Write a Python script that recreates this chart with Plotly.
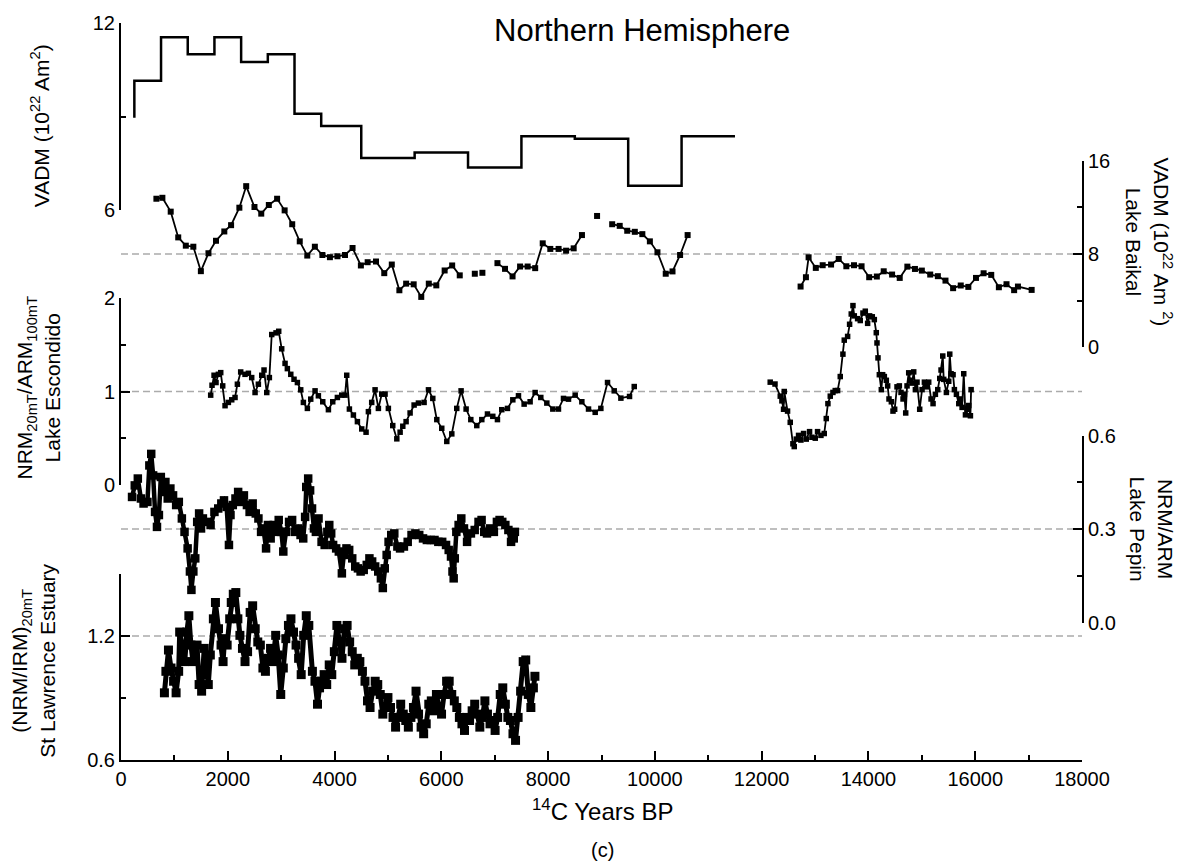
import plotly.graph_objects as go

# ---------------- data ----------------
# Global VADM compilation (step curve): bin edges (14C yr BP) and bin values (10^22 Am^2)
vadm_edges = [250, 750, 1250, 1750, 2250, 2750, 3250, 3750, 4500, 5500,
              6500, 7500, 8500, 9500, 10500, 11500]
vadm_vals = [10.16, 11.55, 11.01, 11.55, 10.76, 11.01, 9.10, 8.71, 7.68,
             7.86, 7.38, 8.38, 8.30, 6.79, 8.38]
vadm_start = 8.97

# Lake Baikal VADM (None marks breaks in the record)
baikal_yr = [663, 775, 931, 1072, 1214, 1355, 1496, 1638, 1779, 1935, 2062, 2217,
             2345, 2500, 2627, 2769, 2924, 3065, 3207, 3348, 3489, 3631, 3772,
             3913, 4055, 4196, 4337, 4493, 4620, 4776, 4931, 5072, 5214, 5341,
             5482, 5624, 5765, 5906, 6062, 6203, 6345, None, 6627, None, 6769,
             None, 7051, 7193, 7334, 7475, 7617, 7758, 7899, 8041, 8196, 8337,
             8479, 8634, None, 8917, None, 9200, 9341, 9482, 9624, 9765, 9906,
             10048, 10203, 10330, 10472, 10613, None,
             12729, 12829, 12879, 13014, 13143, 13300, 13443, 13586, 13729,
             13871, 14014, 14157, 14286, 14443, 14586, 14729, 14871, 15000,
             15157, 15300, 15443, 15586, 15729, 15871, 16014, 16157, 16300,
             16443, 16586, 16729, 16800, 17057]
baikal_val = [12.74, 12.82, 11.63, 9.42, 8.71, 8.62, 6.52, 8.06, 9.13, 9.93, 10.47, 11.97,
              13.82, 12.03, 11.46, 12.20, 12.74, 11.74, 10.55, 9.08, 7.86, 8.62, 7.91,
              7.72, 7.80, 7.91, 8.51, 7.01, 7.29, 7.35, 6.35, 7.09, 4.88, 5.45,
              5.39, 4.31, 5.45, 5.30, 6.58, 7.01, 6.16, None, 6.30, None, 6.38,
              None, 7.21, 6.72, 6.07, 6.92, 6.92, 6.78, 8.91, 8.43, 8.43, 8.28,
              8.48, 9.62, None, 11.26, None, 10.55, 10.41, 9.99, 9.90, 9.70, 9.08,
              8.14, 6.30, 6.50, 7.91, 9.62, None,
              5.20, 6.00, 7.71, 6.80, 7.03, 7.09, 7.57, 6.94, 7.03,
              6.94, 6.00, 6.06, 6.51, 6.23, 5.94, 6.91, 6.71, 6.57,
              6.23, 6.09, 5.71, 5.06, 5.29, 5.17, 5.94, 6.34, 6.20,
              5.14, 5.40, 4.89, 5.20, 4.91]

# Lake Escondido NRM20mT/ARM100mT
escondido_yr = [1680, 1705, 1743, 1780, 1824, 1868, 1905, 1949, 2011, 2074, 2136, 2180,
                2242, 2323, 2386, 2448, 2511, 2573, 2636, 2679, 2730, 2779, 2823, 2904,
                2954, 3010, 3073, 3116, 3180, 3241, 3304, 3366, 3416, 3491, 3554, 3635,
                3697, 3779, 3885, 3966, 4053, 4135, 4197, 4228, 4278, 4353, 4428, 4509,
                4590, 4634, 4696, 4759, 4821, 4884, 4946, 5008, 5090, 5166,
                5228, 5278, 5340, 5415, 5490, 5571, 5677, 5759, 5840, 5915, 6008, 6102,
                6196, 6289, 6370, 6464, 6552, 6664, 6758, 6864, 6964, 7051, 7132, 7239,
                7339, 7445, 7551, 7663, 7757, 7863, 7976, 8088, 8194, 8288, 8382, 8507,
                8632, 8757, 8882, 8988, 9113, 9238, 9363, 9525, 9613, None,
                12160, 12250, 12348, 12379, 12410, 12423, 12485, 12535, 12585, 12610,
                12648, 12691, 12735, 12785, 12835, 12897, 12941, 13004, 13047, 13110,
                13172, 13210, 13241, 13285, 13335, 13378, 13422, 13472, 13522, 13547,
                13610, 13647, 13678, 13710, 13735, 13797, 13847, 13897, 13941, 13985,
                14022, 14072, 14110, 14147, 14160, 14179, 14204, 14241, 14266, 14298,
                14335, 14360, 14385, 14429, 14460, 14491, 14535, 14579, 14610, 14648,
                14673, 14698, 14723, 14754, 14785, 14816, 14848, 14879, 14910, 14960,
                15004, 15048, 15085, 15129, 15173, 15210, 15254, 15298, 15335, 15360,
                15392, 15410, 15460, 15504, 15523, 15548, 15585, 15610, 15648, 15692,
                15723, 15754, 15785, 15817, 15848, 15879, 15910, 15923]
escondido_val = [0.961, 1.067, 1.174, 1.096, 1.184, 1.202, 1.060, 0.848, 0.883, 0.911, 0.936, 1.078,
                 1.209, 1.184, 1.195, 1.149, 0.989, 1.078, 1.174, 1.230, 0.989, 1.149, 1.610, 1.628,
                 1.645, 1.457, 1.301, 1.245, 1.184, 1.131, 1.096, 1.018, 0.883, 0.819, 0.918, 1.007,
                 0.954, 0.890, 0.805, 0.890, 0.936, 0.961, 0.961, 1.174, 0.812, 0.748, 0.677, 0.599,
                 0.564, 0.784, 0.883, 1.018, 0.819, 0.972, 0.972, 0.819, 0.635, 0.493,
                 0.564, 0.628, 0.677, 0.770, 0.855, 0.876, 0.883, 1.018, 0.926, 0.699, 0.606, 0.465,
                 0.546, 0.819, 1.007, 0.812, 0.699, 0.635, 0.699, 0.759, 0.734, 0.699, 0.805, 0.819,
                 0.911, 0.954, 0.865, 0.890, 0.989, 0.936, 0.876, 0.812, 0.812, 0.926, 0.918, 0.961,
                 0.890, 0.812, 0.777, 0.819, 1.096, 1.007, 0.929, 0.947, 1.053, None,
                 1.10, 1.08, 0.95, 0.90, 0.81, 1.00, 0.79, 0.67, 0.44, 0.41,
                 0.49, 0.53, 0.48, 0.55, 0.49, 0.57, 0.51, 0.50, 0.57, 0.53,
                 0.55, 0.71, 0.87, 0.95, 0.99, 1.01, 1.01, 1.16, 1.40, 1.55,
                 1.59, 1.72, 1.83, 1.92, 1.81, 1.78, 1.76, 1.84, 1.86, 1.73,
                 1.81, 1.80, 1.77, 1.63, 1.52, 1.36, 1.18, 1.02, 1.18, 1.16,
                 1.12, 1.06, 0.92, 0.89, 0.79, 0.81, 1.05, 1.06, 0.99, 0.92,
                 0.97, 0.77, 1.06, 1.20, 1.12, 1.09, 1.21, 1.02, 1.10, 0.81,
                 1.02, 1.10, 1.05, 1.10, 0.92, 0.87, 0.97, 1.02, 1.14, 1.23,
                 1.38, 1.13, 0.99, 1.11, 1.40, 1.19, 1.18, 1.02, 0.97, 0.87,
                 0.92, 0.83, 1.19, 0.75, 0.81, 0.85, 0.74, 1.02]

# Lake Pepin NRM/ARM
pepin_yr = [207, 258, 315, 373, 423, 495, 531, 566, 602, 638, 674, 710, 746, 782, 832,
            875, 925, 975, 1033, 1083, 1140, 1190, 1248, 1291, 1319, 1355, 1391, 1427,
            1463, 1499, 1534, 1606, 1678, 1750, 1821, 1879, 1929, 1979, 2022, 2051, 2094,
            2144, 2194, 2251, 2302, 2359, 2409, 2466, 2524, 2574, 2624, 2667, 2717, 2753,
            2803, 2861, 2911, 2954, 3004, 3040, 3090, 3148, 3205, 3255, 3312, 3363, 3413,
            3449, 3470, 3506, 3542, 3578, 3614, 3650, 3700, 3757, 3815, 3865, 3901, 3937,
            3973, 4030, 4080, 4137, 4173, 4223, 4274, 4331, 4388, 4438, 4488, 4546, 4603,
            4653, 4704, 4761, 4818, 4868, 4904, 4940, 4976, 5012, 5062, 5119, 5177, 5227,
            5299, 5370, 5442, 5514, 5586, 5657, 5729, 5801, 5872, 5944, 6016, 6088, 6138,
            6181, 6209, 6231, 6252, 6281, 6324, 6374, 6424, 6482, 6554, 6625, 6697, 6754,
            6804, 6855, 6912, 6984, 7041, 7091, 7141, 7199, 7256, 7306, 7356, 7378]
pepin_val = [0.403, 0.440, 0.462, 0.398, 0.382, 0.387, 0.504, 0.541, 0.472, 0.355, 0.307, 0.345, 0.467, 0.419, 0.451,
             0.398, 0.430, 0.408, 0.377, 0.387, 0.334, 0.291, 0.238, 0.164, 0.105, 0.164, 0.206, 0.323,
             0.350, 0.302, 0.334, 0.323, 0.313, 0.355, 0.366, 0.382, 0.392, 0.371, 0.249, 0.345, 0.377,
             0.398, 0.419, 0.387, 0.408, 0.377, 0.355, 0.382, 0.350, 0.334, 0.291, 0.302, 0.238, 0.313,
             0.270, 0.313, 0.291, 0.329, 0.291, 0.228, 0.291, 0.323, 0.329, 0.291, 0.302, 0.281, 0.270,
             0.339, 0.435, 0.462, 0.424, 0.366, 0.302, 0.291, 0.334, 0.259, 0.249, 0.291, 0.313, 0.286,
             0.249, 0.238, 0.228, 0.158, 0.217, 0.238, 0.233, 0.206, 0.180, 0.174, 0.164, 0.169, 0.185,
             0.206, 0.196, 0.180, 0.164, 0.142, 0.111, 0.174, 0.217, 0.259, 0.281, 0.286, 0.244, 0.238,
             0.244, 0.259, 0.281, 0.286, 0.281, 0.270, 0.265, 0.265, 0.265, 0.259, 0.259, 0.249, 0.233,
             0.212, 0.164, 0.142, 0.206, 0.291, 0.313, 0.334, 0.302, 0.259, 0.286, 0.297, 0.323, 0.329,
             0.291, 0.286, 0.302, 0.291, 0.323, 0.329, 0.323, 0.313, 0.297, 0.259, 0.270, 0.291]

# St Lawrence Estuary (NRM/IRM)20mT
stl_yr = [813, 841, 889, 937, 985, 1032, 1080, 1099, 1147, 1195, 1233, 1271, 1310, 1348,
          1386, 1424, 1463, 1510, 1558, 1597, 1635, 1673, 1730, 1769, 1826, 1874, 1912,
          1941, 1988, 2036, 2065, 2103, 2151, 2189, 2227, 2275, 2323, 2371, 2419, 2466,
          2514, 2562, 2610, 2658, 2705, 2753, 2801, 2849, 2897, 2944, 2992, 3040, 3088,
          3136, 3183, 3231, 3279, 3327, 3375, 3422, 3470, 3518, 3585, 3633, 3681, 3719,
          3757, 3805, 3853, 3900, 3948, 3996, 4044, 4092, 4139, 4187, 4235, 4283, 4331,
          4378, 4426, 4474, 4522, 4570, 4617, 4665, 4713, 4761, 4809, 4856, 4904, 4952,
          5000, 5048, 5095, 5143, 5191, 5239, 5287, 5334, 5382, 5430, 5478, 5526, 5573,
          5621, 5669, 5717, 5765, 5812, 5860, 5908, 5956, 6004, 6051, 6099, 6147, 6195,
          6243, 6290, 6338, 6386, 6434, 6482, 6529, 6577, 6625, 6673, 6721, 6768, 6816,
          6864, 6912, 6960, 7007, 7055, 7103, 7151, 7199, 7246, 7294, 7342, 7390, 7438,
          7485, 7533, 7581, 7629, 7677, 7724, 7753]
stl_val = [0.925, 1.029, 1.132, 1.045, 0.981, 0.925, 1.029, 1.219, 1.156, 1.076, 1.219, 1.298, 1.156, 1.076,
           1.092, 1.156, 0.965, 0.933, 1.140, 1.013, 0.965, 1.108, 1.283, 1.362, 1.235, 1.156, 1.076,
           1.187, 1.156, 1.283, 1.362, 1.402, 1.410, 1.283, 1.203, 1.140, 1.076, 1.124, 1.314, 1.346,
           1.235, 1.171, 1.156, 1.045, 1.029, 1.092, 1.140, 1.076, 1.203, 1.108, 0.917, 1.045, 1.187,
           1.251, 1.283, 1.219, 1.156, 1.092, 1.013, 1.203, 1.298, 1.251, 1.029, 0.981, 0.870, 0.949,
           0.981, 1.013, 0.965, 1.060, 1.013, 1.124, 1.251, 1.171, 1.092, 1.235, 1.251, 1.171, 1.124,
           1.060, 1.092, 1.076, 1.029, 0.981, 0.886, 0.854, 0.933, 0.981, 0.965, 0.917, 0.822, 0.854,
           0.902, 0.854, 0.806, 0.759, 0.806, 0.870, 0.822, 0.791, 0.759, 0.806, 0.854, 0.933, 0.822,
           0.759, 0.727, 0.775, 0.870, 0.886, 0.838, 0.917, 0.854, 0.822, 0.917, 0.981, 0.981, 0.917,
           0.886, 0.854, 0.806, 0.775, 0.743, 0.806, 0.791, 0.838, 0.870, 0.822, 0.759, 0.806, 0.886,
           0.822, 0.775, 0.791, 0.743, 0.806, 0.917, 0.949, 0.870, 0.806, 0.791, 0.727, 0.695, 0.806,
           0.933, 1.076, 1.084, 0.917, 0.854, 0.949, 1.005]

# Horizontal reference levels on each record's own axis
ref_levels = {"y2": 8, "y3": 1, "y4": 0.3, "y5": 1.2}

# x tick labels
x_ticks = list(range(0, 18001, 2000))
x_tick_text = [str(v) for v in x_ticks]

# ---------------- layout geometry ----------------
W, H = 1193, 864
L, R, T, B = 121, 111, 18, 104
PW, PH = W - L - R, H - T - B
FONT = "Arial, Liberation Sans, sans-serif"
TICK_SIZE = 20


def px_x(px):
    return (px - L) / PW


def px_y(py):
    return (H - B - py) / PH


def dom(top_px, bottom_px):
    return [max(0.0, px_y(bottom_px)), min(1.0, px_y(top_px))]


fig = go.Figure()

# step curve
step_x = [vadm_edges[0]] + vadm_edges
step_y = [vadm_start] + vadm_vals + [vadm_vals[-1]]
fig.add_trace(go.Scatter(x=step_x, y=step_y, yaxis="y", mode="lines",
                         line=dict(color="black", width=2.5, shape="hv"),
                         cliponaxis=False, showlegend=False))


def series(x, y, axis, msize, lw):
    fig.add_trace(go.Scatter(x=x, y=y, yaxis=axis, mode="lines+markers",
                             marker=dict(symbol="square", size=msize, color="black"),
                             line=dict(color="black", width=lw),
                             connectgaps=False, cliponaxis=False, showlegend=False))


series(baikal_yr, baikal_val, "y2", 6, 1.8)
series(escondido_yr, escondido_val, "y3", 5.5, 1.8)
series(pepin_yr, pepin_val, "y4", 8.5, 4.5)
series(stl_yr, stl_val, "y5", 9, 5)

shapes = []
for ax, lev in ref_levels.items():
    shapes.append(dict(type="line", xref="paper", x0=0, x1=1, yref=ax, y0=lev, y1=lev,
                       line=dict(color="#ababab", width=1.5, dash="7px,4px"), layer="below"))

axis_common = dict(showline=True, linecolor="black", linewidth=2, ticks="inside",
                   ticklen=9, tickwidth=2, tickcolor="black", showgrid=False,
                   zeroline=False, tickfont=dict(family=FONT, size=TICK_SIZE, color="black"),
                   fixedrange=True)
minor_common = dict(ticks="inside", ticklen=5, tickwidth=2, tickcolor="black")

fig.update_layout(
    width=W, height=H,
    margin=dict(l=L, r=R, t=T, b=B),
    paper_bgcolor="white", plot_bgcolor="rgba(0,0,0,0)",
    font=dict(family=FONT, color="black"),
    showlegend=False,
    shapes=shapes,
    xaxis=dict(range=[0, 18000], anchor="y5", tickvals=x_ticks, ticktext=x_tick_text,
               minor=dict(dtick=1000, tick0=0, **minor_common),
               **axis_common),
    yaxis=dict(domain=dom(18.3, 206.7), range=[6, 12], anchor="x", side="left",
               tickvals=[6, 12], minor=dict(tickvals=[9], **minor_common),
               **axis_common),
    yaxis2=dict(domain=dom(156.7, 344.3), range=[0, 16], anchor="x", side="right",
                tickvals=[0, 8, 16], minor=dict(tickvals=[4, 12], **minor_common),
                **axis_common),
    yaxis3=dict(domain=dom(295, 483), range=[0, 2], anchor="x", side="left",
                tickvals=[0, 1, 2], minor=dict(tickvals=[0.5, 1.5], **minor_common),
                **axis_common),
    yaxis4=dict(domain=dom(433.3, 621.7), range=[0, 0.6], anchor="x", side="right",
                tickvals=[0, 0.3, 0.6], ticktext=["0.0", "0.3", "0.6"],
                minor=dict(tickvals=[0.15, 0.45], **minor_common),
                **axis_common),
    yaxis5=dict(domain=dom(572.7, 760), range=[0.6, 1.5], anchor="x", side="left",
                tickvals=[0.6, 1.2], minor=dict(tickvals=[0.9, 1.5], **minor_common),
                **axis_common),
)

ann = []


def label(text, px, py, size, angle=0, xanchor="center", yanchor="middle"):
    ann.append(dict(text=text, xref="paper", yref="paper", x=px_x(px), y=px_y(py),
                    showarrow=False, textangle=angle, xanchor=xanchor, yanchor=yanchor,
                    align="center", font=dict(family=FONT, size=size, color="black")))


label("Northern Hemisphere", 642, 26, 31)
label("VADM (10<sup>22</sup> Am<sup>2</sup>)", 40, 122, 21, angle=-90)
label("NRM<sub>20mT</sub>/ARM<sub>100mT</sub><br>Lake Escondido", 38, 385, 21, angle=-90)
label("(NRM/IRM)<sub>20mT</sub><br>St Lawrence Estuary", 33, 660, 21, angle=-90)
label("VADM (10<sup>22</sup> Am <sup>2</sup>)<br>Lake Baikal", 1149, 238, 21, angle=90)
label("NRM/ARM<br>Lake Pepin", 1152, 527, 21, angle=90)
label("<sup>14</sup>C Years BP", 602, 810, 24)
label("(c)", 602, 851, 20)

fig.update_layout(annotations=ann)

fig.write_html("out.html")
